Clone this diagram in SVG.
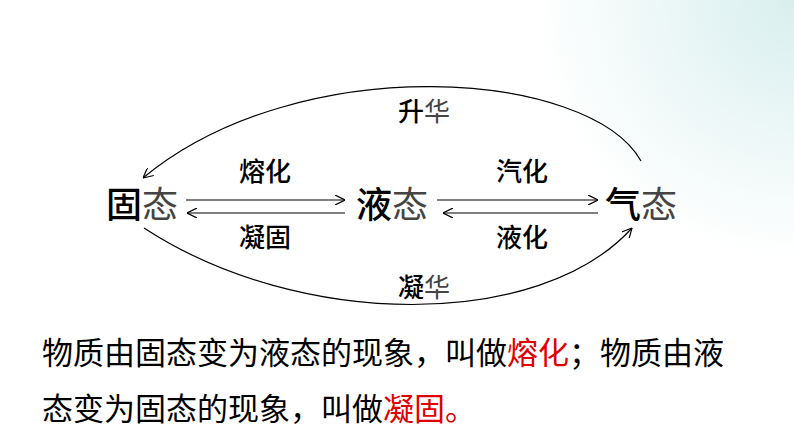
<svg xmlns="http://www.w3.org/2000/svg" width="794" height="447" viewBox="0 0 794 447">
<defs>
<radialGradient id="bg" cx="794" cy="0" r="260" gradientUnits="userSpaceOnUse">
<stop offset="0" stop-color="#d8efee"/><stop offset="1" stop-color="#ffffff"/>
</radialGradient>
<marker id="ar" viewBox="0 0 10 10" refX="10" refY="5" markerWidth="10" markerHeight="10" markerUnits="userSpaceOnUse" orient="auto">
<path d="M0,0 L10,5 L0,10" fill="none" stroke="#000" stroke-width="1.2"/>
</marker>
<style>
text{font-family:"Noto Sans CJK SC",sans-serif;fill:#000}
.n{font-size:36px;font-weight:500}
.l{font-size:26px;font-weight:500}
.p{font-size:31px}
.g{fill:#444;font-weight:400}
.r{fill:#e00000}
.c{fill:none;stroke:#000;stroke-width:1.2;marker-end:url(#ar)}
</style>
</defs>
<rect width="794" height="447" fill="url(#bg)"/>
<g id="solid"><text class="n" x="106" y="218">固<tspan class="g">态</tspan></text></g>
<g id="liquid"><text class="n" x="356" y="218">液<tspan class="g">态</tspan></text></g>
<g id="gas"><text class="n" x="605" y="218">气<tspan class="g">态</tspan></text></g>
<g id="connectors">
<path class="c" d="M186,200 L345,200"/>
<path class="c" d="M345,213 L187,213"/>
<path class="c" d="M437,200 L598,200"/>
<path class="c" d="M598,213 L443,213"/>
<path class="c" d="M641,161 C590,70 300,48 143,178"/>
<path class="c" d="M144,228 C300,330 540,330 632,228"/>
</g>
<g id="labels">
<text class="l" x="424" y="121" text-anchor="middle">升<tspan class="g">华</tspan></text>
<text class="l" x="265" y="181" text-anchor="middle">熔化</text>
<text class="l" x="265" y="247" text-anchor="middle">凝固</text>
<text class="l" x="522" y="181" text-anchor="middle">汽化</text>
<text class="l" x="522" y="247" text-anchor="middle">液化</text>
<text class="l" x="424" y="297" text-anchor="middle">凝<tspan class="g">华</tspan></text>
</g>
<g id="para">
<text class="p" x="42" y="364">物质由固态变为液态的现象，叫做<tspan class="r">熔化</tspan>；物质由液</text>
<text class="p" x="42" y="420">态变为固态的现象，叫做<tspan class="r">凝固。</tspan></text>
</g>
</svg>
